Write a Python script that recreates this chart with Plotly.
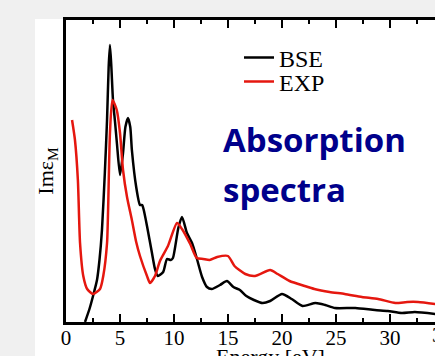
import plotly.graph_objects as go

# Energy [eV] and Im eps_M (arbitrary units)
bse_energy = [1.76, 2.2, 2.6, 2.87, 3.1, 3.33, 3.6, 3.8, 3.95, 4.07, 4.2, 4.35, 4.54, 4.72, 5.0,
              5.28, 5.5, 5.74, 5.95, 6.1, 6.5, 6.85, 7.05, 7.2, 7.5, 7.96, 8.24, 8.5, 9.0,
              9.35, 9.7, 9.9, 10.4, 10.74, 11.2, 11.67, 12.1, 12.6, 13.05, 13.5, 14.26,
              14.9, 15.5, 16.1, 16.7, 17.4, 18.2, 18.9, 20.0, 20.9, 21.9, 23.1, 24.0, 24.9,
              26.8, 28.6, 29.8, 31.1, 32.3, 34.2]
bse_values = [0.0, 0.14, 0.30, 0.42, 0.62, 0.92, 1.50, 2.02, 2.55, 2.77, 2.55, 2.22, 2.00, 1.78, 1.47,
              1.69, 1.95, 2.04, 1.95, 1.72, 1.35, 1.17, 1.17, 1.12, 0.96, 0.69, 0.53, 0.46, 0.50,
              0.63, 0.62, 0.64, 0.94, 1.05, 0.89, 0.79, 0.64, 0.45, 0.35, 0.33, 0.37,
              0.41, 0.35, 0.32, 0.26, 0.22, 0.19, 0.21, 0.28, 0.23, 0.16, 0.19, 0.17, 0.14,
              0.14, 0.12, 0.11, 0.09, 0.10, 0.08]

exp_energy = [0.56, 0.83, 1.1, 1.3, 1.6, 1.96, 2.5, 3.15, 3.45, 3.8, 3.9, 4.07, 4.3, 4.7, 5.0,
              5.28, 5.65, 6.1, 6.5, 6.85, 7.5, 7.78, 8.24, 8.7, 9.44, 10.28, 10.74, 11.5, 12.1,
              12.7, 13.3, 14.0, 15.0, 15.6, 16.6, 17.5, 18.9, 19.6, 20.7, 22.1, 23.0, 24.4,
              25.8, 27.4, 28.9, 30.5, 31.6, 32.6, 34.2]
exp_values = [2.02, 1.82, 1.42, 0.79, 0.46, 0.33, 0.28, 0.33, 0.46, 0.79, 1.13, 1.89, 2.22, 2.12, 1.89,
              1.52, 1.25, 1.02, 0.80, 0.66, 0.46, 0.39, 0.46, 0.61, 0.76, 0.99, 0.93, 0.78, 0.64,
              0.63, 0.62, 0.65, 0.66, 0.56, 0.48, 0.46, 0.52, 0.48, 0.41, 0.36, 0.33, 0.30,
              0.28, 0.25, 0.23, 0.19, 0.20, 0.20, 0.18]

x_ticks = [0, 5, 10, 15, 20, 25, 30]

SERIF = "Liberation Serif, Times New Roman, serif"
W, H = 435, 356
L, T, B, R = 66, 20, 34, 0
PW, PH = W - L - R, H - T - B


def px_x(px):
    return (px - L) / PW


def px_y(py):
    return (H - B - py) / PH


fig = go.Figure()
fig.add_trace(go.Scatter(x=bse_energy, y=bse_values, mode="lines", name="BSE",
                         line=dict(color="black", width=2.5, shape="spline", smoothing=0.6),
                         legend="legend"))
fig.add_trace(go.Scatter(x=exp_energy, y=exp_values, mode="lines", name="EXP",
                         line=dict(color="#e5170f", width=2.5, shape="spline", smoothing=0.6),
                         legend="legend2"))

axis_font = dict(family=SERIF, size=21, color="black")

fig.update_layout(
    width=W, height=H,
    margin=dict(l=L, r=R, t=T, b=B, pad=0),
    paper_bgcolor="white", plot_bgcolor="white",
    xaxis=dict(range=[0, PW / 10.8], tickvals=x_ticks, ticks="inside", ticklen=8, tickwidth=2,
               tickcolor="black", showline=True, linecolor="black", linewidth=2.5,
               mirror="ticks", showgrid=False, zeroline=False, tickfont=axis_font,
               ticklabelstandoff=-5,
               minor=dict(dtick=2.5, tick0=0, ticks="inside", ticklen=4, tickwidth=2,
                          tickcolor="black", showgrid=False)),
    yaxis=dict(range=[0, PH / 100], showticklabels=False, ticks="", showline=True,
               linecolor="black", linewidth=2.5, showgrid=False, zeroline=False,
               title=dict(text="Imε<sub>M</sub>", font=dict(family=SERIF, size=22, color="black"),
                          standoff=4)),
    legend=dict(x=px_x(239), y=px_y(58), xanchor="left", yanchor="middle",
                font=dict(family=SERIF, size=24, color="black"), bgcolor="rgba(0,0,0,0)",
                borderwidth=0),
    legend2=dict(x=px_x(239), y=px_y(82), xanchor="left", yanchor="middle",
                 font=dict(family=SERIF, size=24, color="black"), bgcolor="rgba(0,0,0,0)",
                 borderwidth=0),
    showlegend=True,
)

# gray slide background outside the white picture
fig.add_shape(type="rect", xref="paper", yref="paper", x0=px_x(-5), x1=px_x(35),
              y0=px_y(H + 5), y1=px_y(-5), fillcolor="#f0f0f0", line_width=0, layer="below")
fig.add_shape(type="rect", xref="paper", yref="paper", x0=px_x(-5), x1=px_x(W + 5),
              y0=px_y(19), y1=px_y(-5), fillcolor="#f0f0f0", line_width=0, layer="below")

title_font = dict(family="Open Sans, sans-serif", size=33, color="#00008B", weight="bold")
fig.add_annotation(text="Absorption", xref="paper", yref="paper", x=px_x(221), y=px_y(139),
                   xanchor="left", yanchor="middle", showarrow=False, font=title_font)
fig.add_annotation(text="spectra", xref="paper", yref="paper", x=px_x(221), y=px_y(189),
                   xanchor="left", yanchor="middle", showarrow=False, font=title_font)

fig.add_annotation(text="Energy [eV]", xref="paper", yref="paper", x=px_x(270), y=px_y(342),
                   xanchor="center", yanchor="top", showarrow=False,
                   font=dict(family=SERIF, size=22, color="black"))
fig.add_annotation(text="35", xref="paper", yref="paper", x=px_x(443), y=px_y(335),
                   xanchor="center", yanchor="middle", showarrow=False, font=axis_font)

fig.write_html("out.html")
